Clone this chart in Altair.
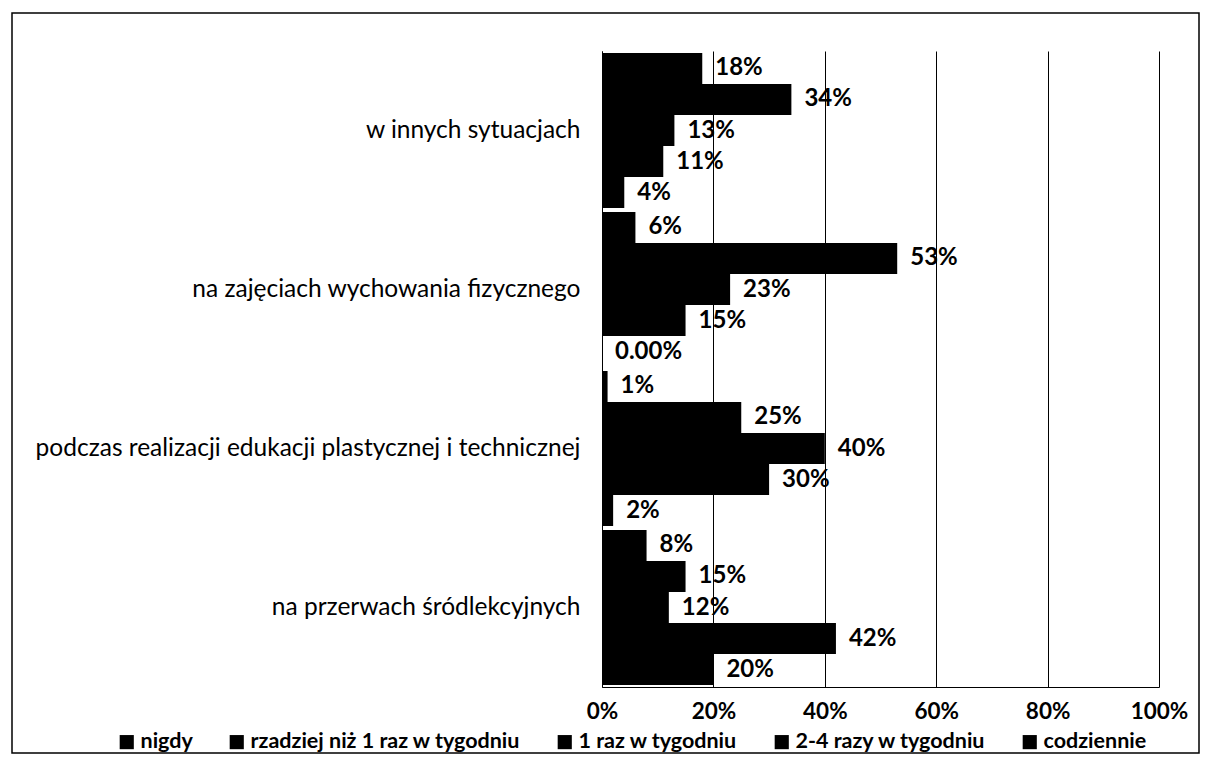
import altair as alt
import pandas as pd

categories = [
    "w innych sytuacjach",
    "na zajęciach wychowania fizycznego",
    "podczas realizacji edukacji plastycznej i technicznej",
    "na przerwach śródlekcyjnych",
]
series = [
    "nigdy",
    "rzadziej niż 1 raz w tygodniu",
    "1 raz w tygodniu",
    "2-4 razy w tygodniu",
    "codziennie",
]
# percentages per category (same order as categories)
nigdy = [4, 0, 2, 20]
rzadziej = [11, 15, 30, 42]
raz_w_tygodniu = [13, 23, 40, 12]
dwa_cztery = [34, 53, 25, 15]
codziennie = [18, 6, 1, 8]
x_ticks = [0, 0.2, 0.4, 0.6, 0.8, 1.0]

values_by_series = [nigdy, rzadziej, raz_w_tygodniu, dwa_cztery, codziennie]
rows = []
for s, vals in zip(series, values_by_series):
    for c, v in zip(categories, vals):
        rows.append({
            "kategoria": c,
            "seria": s,
            "wartosc": v / 100,
            "etykieta": f"{v}%" if v else "0.00%",
        })
df = pd.DataFrame(rows)

FONT = "Lato"
W, H = 557, 636

y_enc = alt.Y("kategoria:N", sort=categories, title=None,
              scale=alt.Scale(paddingInner=0.025, paddingOuter=0.0125),
              axis=alt.Axis(labelFont=FONT, labelFontSize=24.5, labelColor="black",
                            labelPadding=22, ticks=False, domain=True,
                            domainColor="black", labelLimit=700, grid=False))
yoff = alt.YOffset("seria:N", sort=series[::-1])
x_enc = alt.X("wartosc:Q", title=None,
              scale=alt.Scale(domain=[0, 1], nice=False),
              axis=alt.Axis(values=x_ticks, format=".0%", labelFont=FONT,
                            labelFontSize=22.5, labelFontWeight="bold",
                            labelColor="black", labelPadding=13, ticks=False,
                            labelFlush=False, labelOverlap=False,
                            domainColor="black", gridColor="black",
                            gridWidth=1, gridOpacity=1))

base = alt.Chart(df)
bars = base.mark_bar(color="black").encode(
    y=y_enc,
    yOffset=yoff,
    x=x_enc,
    color=alt.Color("seria:N", scale=alt.Scale(domain=series, range=["black"] * 5),
                    legend=alt.Legend(title=None, orient="none", direction="horizontal",
                                      legendX=-486, legendY=680,
                                      symbolType="square", symbolSize=200,
                                      symbolFillColor="black", symbolStrokeWidth=0,
                                      labelFont=FONT, labelFontSize=21.5,
                                      labelFontWeight="bold",
                                      labelColor="black", columnPadding=33,
                                      labelOffset=3, labelLimit=450)),
)
labels = base.mark_text(align="left", baseline="middle", dx=13, font=FONT,
                        fontSize=24, fontWeight="bold", color="black").encode(
    y=alt.Y("kategoria:N", sort=categories),
    yOffset=yoff,
    x=alt.X("wartosc:Q"),
    text="etykieta:N",
)
frame = alt.Chart(pd.DataFrame({"r": [0]})).mark_rect(
    fillOpacity=0, stroke="black", strokeWidth=1.5).encode(
    x=alt.value(-590), x2=alt.value(597), y=alt.value(-38), y2=alt.value(702))

chart = alt.layer(bars, labels, frame).properties(
    width=W, height=H,
    autosize=alt.AutoSizeParams(type="none"),
    padding={"left": 594, "top": 43, "right": 41, "bottom": 67},
    background="white",
).configure_view(strokeWidth=0)

chart.save("out.html", embed_options={"renderer": "svg", "actions": False})
